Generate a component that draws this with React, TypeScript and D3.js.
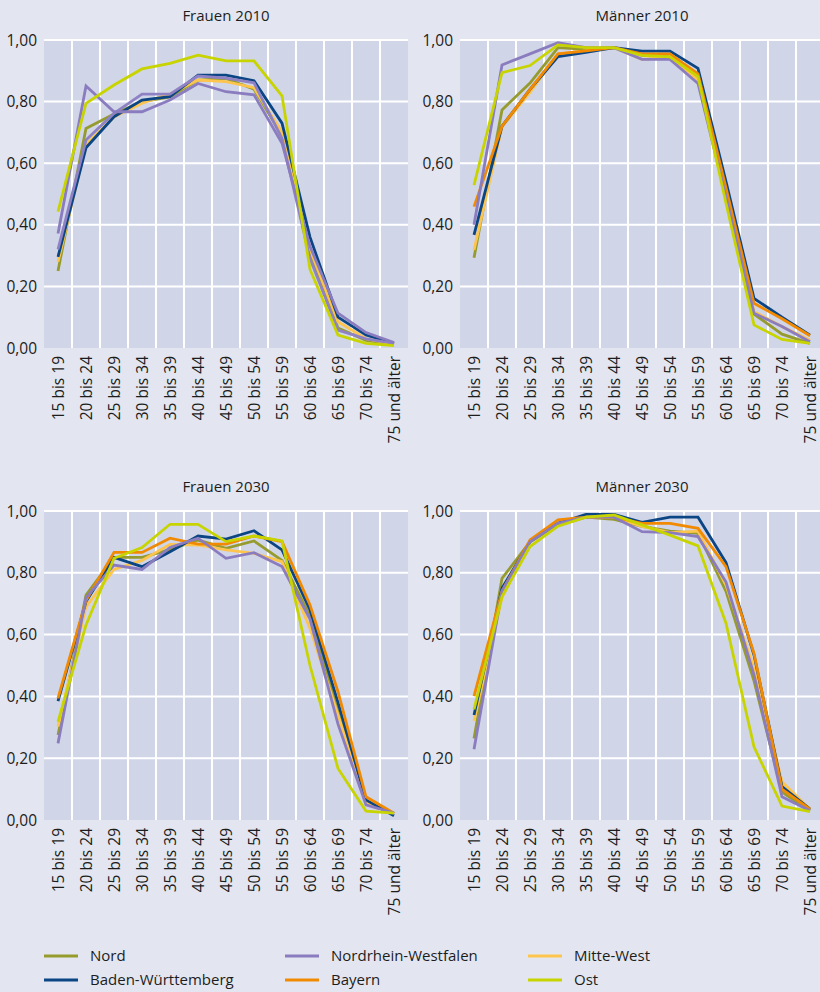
import React from "react";
import * as d3 from "d3";

const ageGroups = [
  "15 bis 19", "20 bis 24", "25 bis 29", "30 bis 34", "35 bis 39", "40 bis 44",
  "45 bis 49", "50 bis 54", "55 bis 59", "60 bis 64", "65 bis 69", "70 bis 74", "75 und älter",
];
const yTicks = [0, 0.2, 0.4, 0.6, 0.8, 1.0];
const regions = ["Nord", "Baden-Württemberg", "Nordrhein-Westfalen", "Bayern", "Mitte-West", "Ost"];
const regionColors = ["#969b2d", "#0b4583", "#8a7cbf", "#f18a00", "#fdc54e", "#c8d400"];
const drawOrder = [0, 4, 1, 3, 2, 5];

// Frauen 2010
const f2010Nord = [0.25, 0.713, 0.76, 0.80, 0.815, 0.87, 0.875, 0.84, 0.69, 0.31, 0.065, 0.025, 0.012];
const f2010BW = [0.296, 0.65, 0.751, 0.805, 0.816, 0.886, 0.886, 0.868, 0.73, 0.36, 0.10, 0.042, 0.015];
const f2010NRW = [0.372, 0.851, 0.767, 0.767, 0.805, 0.859, 0.832, 0.822, 0.665, 0.33, 0.113, 0.05, 0.018];
const f2010Bayern = [0.32, 0.675, 0.762, 0.824, 0.824, 0.883, 0.876, 0.861, 0.68, 0.29, 0.058, 0.03, 0.015];
const f2010MitteWest = [0.28, 0.66, 0.75, 0.795, 0.825, 0.87, 0.865, 0.845, 0.70, 0.32, 0.085, 0.03, 0.012];
const f2010Ost = [0.443, 0.794, 0.854, 0.906, 0.924, 0.951, 0.932, 0.932, 0.819, 0.255, 0.042, 0.015, 0.008];

// Männer 2010
const m2010Nord = [0.293, 0.773, 0.86, 0.975, 0.97, 0.975, 0.95, 0.945, 0.875, 0.49, 0.11, 0.045, 0.015];
const m2010BW = [0.367, 0.72, 0.84, 0.946, 0.96, 0.975, 0.964, 0.964, 0.908, 0.54, 0.161, 0.10, 0.042];
const m2010NRW = [0.40, 0.919, 0.955, 0.991, 0.975, 0.975, 0.937, 0.937, 0.859, 0.49, 0.113, 0.07, 0.02];
const m2010Bayern = [0.459, 0.72, 0.84, 0.955, 0.965, 0.975, 0.955, 0.955, 0.89, 0.52, 0.145, 0.095, 0.04];
const m2010MitteWest = [0.318, 0.718, 0.83, 0.955, 0.965, 0.975, 0.937, 0.945, 0.87, 0.50, 0.118, 0.07, 0.025];
const m2010Ost = [0.529, 0.894, 0.917, 0.984, 0.975, 0.975, 0.95, 0.945, 0.881, 0.47, 0.075, 0.028, 0.015];

// Frauen 2030
const f2030Nord = [0.275, 0.728, 0.85, 0.85, 0.875, 0.906, 0.879, 0.903, 0.84, 0.66, 0.35, 0.06, 0.02];
const f2030BW = [0.385, 0.707, 0.85, 0.82, 0.868, 0.919, 0.909, 0.936, 0.874, 0.68, 0.38, 0.065, 0.014];
const f2030NRW = [0.248, 0.72, 0.825, 0.811, 0.882, 0.912, 0.847, 0.865, 0.82, 0.65, 0.31, 0.049, 0.022];
const f2030Bayern = [0.394, 0.71, 0.866, 0.866, 0.912, 0.893, 0.893, 0.919, 0.901, 0.696, 0.415, 0.075, 0.022];
const f2030MitteWest = [0.302, 0.69, 0.811, 0.84, 0.892, 0.89, 0.874, 0.863, 0.836, 0.62, 0.34, 0.055, 0.022];
const f2030Ost = [0.318, 0.631, 0.847, 0.882, 0.957, 0.957, 0.901, 0.919, 0.903, 0.50, 0.167, 0.029, 0.022];

// Männer 2030
const m2030Nord = [0.264, 0.782, 0.90, 0.955, 0.98, 0.973, 0.95, 0.935, 0.928, 0.74, 0.45, 0.09, 0.03];
const m2030BW = [0.34, 0.75, 0.901, 0.96, 0.989, 0.989, 0.963, 0.98, 0.98, 0.833, 0.534, 0.108, 0.035];
const m2030NRW = [0.229, 0.74, 0.90, 0.96, 0.98, 0.98, 0.933, 0.93, 0.917, 0.77, 0.47, 0.075, 0.03];
const m2030Bayern = [0.401, 0.74, 0.906, 0.971, 0.98, 0.98, 0.96, 0.96, 0.944, 0.82, 0.539, 0.10, 0.035];
const m2030MitteWest = [0.321, 0.72, 0.90, 0.96, 0.98, 0.98, 0.95, 0.93, 0.935, 0.76, 0.49, 0.124, 0.035];
const m2030Ost = [0.358, 0.723, 0.885, 0.951, 0.98, 0.987, 0.955, 0.922, 0.887, 0.637, 0.237, 0.045, 0.027];

const panels = [
  { title: "Frauen 2010", left: 44, top: 40, bottom: 348,
    series: [f2010Nord, f2010BW, f2010NRW, f2010Bayern, f2010MitteWest, f2010Ost],
    colorOverride: { 3: "#8f82c4" } as Record<number, string> },
  { title: "Männer 2010", left: 460, top: 40, bottom: 348,
    series: [m2010Nord, m2010BW, m2010NRW, m2010Bayern, m2010MitteWest, m2010Ost],
    colorOverride: {} as Record<number, string> },
  { title: "Frauen 2030", left: 44, top: 511, bottom: 820,
    series: [f2030Nord, f2030BW, f2030NRW, f2030Bayern, f2030MitteWest, f2030Ost],
    colorOverride: {} as Record<number, string> },
  { title: "Männer 2030", left: 460, top: 511, bottom: 820,
    series: [m2030Nord, m2030BW, m2030NRW, m2030Bayern, m2030MitteWest, m2030Ost],
    colorOverride: {} as Record<number, string> },
];

const plotWidth = 364;
const FONT = "'Open Sans', 'Noto Sans', sans-serif";
const TEXT = "#1d1d1b";
const fmt = (v: number) => d3.format(".2f")(v).replace(".", ",");

function Panel({ p }: { p: (typeof panels)[number] }) {
  const x = d3.scaleBand<string>().domain(ageGroups).range([p.left, p.left + plotWidth]).padding(0);
  const y = d3.scaleLinear().domain([0, 1]).range([p.bottom, p.top]);
  const line = d3
    .line<number>()
    .x((_, i) => (x(ageGroups[i]) as number) + x.bandwidth() / 2)
    .y((d) => y(d));
  const innerBoundaries = ageGroups.slice(1).map((g) => x(g) as number);
  return (
    <g>
      <text x={p.left + plotWidth / 2} y={p.top - 19} textAnchor="middle" fontSize={15} fill={TEXT} fontFamily={FONT}>
        {p.title}
      </text>
      <rect x={p.left} y={p.top} width={plotWidth} height={p.bottom - p.top} fill="#d0d6e8" />
      {yTicks.slice(1).map((t) => (
        <line key={"h" + t} x1={p.left} x2={p.left + plotWidth} y1={y(t)} y2={y(t)} stroke="#fff" strokeWidth={2} />
      ))}
      {innerBoundaries.map((bx, i) => (
        <line key={"v" + i} x1={bx} x2={bx} y1={p.top} y2={p.bottom} stroke="#fff" strokeWidth={2} />
      ))}
      {yTicks.map((t) => (
        <text key={"yl" + t} x={p.left - 7} y={y(t)} dy="0.36em" textAnchor="end" fontSize={15.5} fill={TEXT} fontFamily={FONT}>
          {fmt(t)}
        </text>
      ))}
      {ageGroups.map((g) => {
        const cx = (x(g) as number) + x.bandwidth() / 2;
        const ty = p.bottom + 8;
        return (
          <text key={g} transform={`translate(${cx},${ty}) rotate(-90)`} textAnchor="end" dominantBaseline="central"
            fontSize={15.5} fill={TEXT} fontFamily={FONT}>
            {g}
          </text>
        );
      })}
      {drawOrder.map((si) => (
        <path key={regions[si]} d={line(p.series[si]) || ""} fill="none"
          stroke={p.colorOverride[si] || regionColors[si]} strokeWidth={2.8} strokeLinejoin="miter" />
      ))}
    </g>
  );
}

const legendCols = [44, 285, 528];
const legendRows = [956, 980];
const legendLayout = [
  [0, 0], [1, 0], [0, 1], [1, 1], [0, 2], [1, 2],
];
const legendOrder = [0, 1, 2, 3, 4, 5];

export default function App() {
  return (
    <svg width={820} height={992} style={{ position: "absolute", left: 0, top: 0, display: "block" }}>
      <rect x={0} y={0} width={820} height={992} fill="#e3e6f1" />
      {panels.map((p) => (
        <Panel key={p.title} p={p} />
      ))}
      {legendOrder.map((si, k) => {
        const [row, col] = legendLayout[k];
        const lx = legendCols[col];
        const ly = legendRows[row];
        return (
          <g key={regions[si]}>
            <line x1={lx} x2={lx + 34} y1={ly} y2={ly} stroke={regionColors[si]} strokeWidth={3} />
            <text x={lx + 46} y={ly} dy="0.35em" fontSize={15} fill={TEXT} fontFamily={FONT}>
              {regions[si]}
            </text>
          </g>
        );
      })}
    </svg>
  );
}
